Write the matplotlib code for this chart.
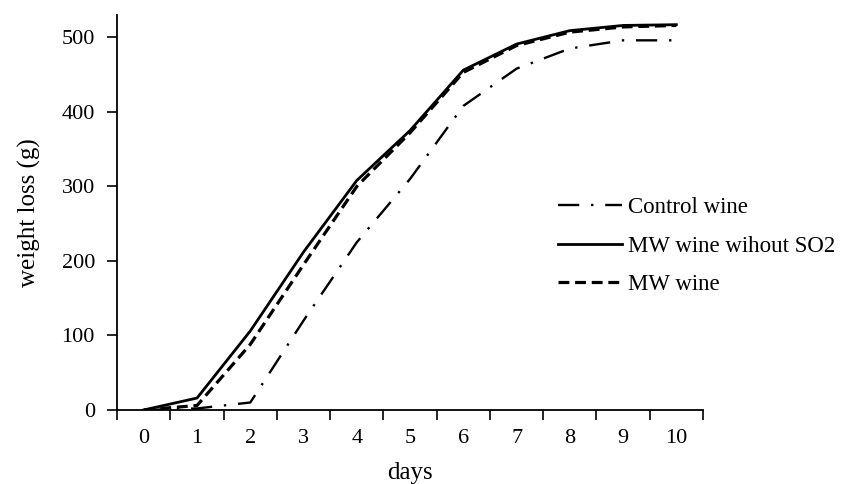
import numpy as np
import matplotlib.pyplot as plt
from matplotlib.ticker import FixedLocator

days = list(range(11))
control = [0, 2, 10, 120, 225, 310, 408, 458, 485, 496, 496]
mw_no_so2 = [0, 16, 106, 212, 308, 375, 456, 491, 509, 516, 517]
mw_wine = [0, 6, 88, 195, 300, 372, 453, 489, 507, 514, 516]

plt.rcParams['font.family'] = ['Liberation Serif', 'DejaVu Serif']

fig = plt.figure(figsize=(8.49, 4.84), dpi=100)
ax = fig.add_axes([0.138, 0.153, 0.69, 0.816])

ax.plot(days, control, color='black', lw=1.7, linestyle=(0, (9, 5, 1, 5)), label='Control wine')
ax.plot(days, mw_no_so2, color='black', lw=2.0, linestyle='-', label='MW wine wihout SO2')
ax.plot(days, mw_wine, color='black', lw=2.3, linestyle=(0, (3.4, 1.8)), label='MW wine')

ax.set_xlim(-0.5, 10.5)
ax.set_ylim(0, 530)
ax.set_xticks(days)
ax.set_xticklabels([str(d) for d in days])
ax.xaxis.set_minor_locator(FixedLocator(np.arange(-0.5, 11, 1)))
ax.tick_params(axis='x', which='major', length=0, pad=14, labelsize=16)
ax.tick_params(axis='x', which='minor', length=7, width=1.2, direction='out')
ax.set_yticks([0, 100, 200, 300, 400, 500])
ax.tick_params(axis='y', length=7, width=1.2, direction='out', labelsize=16, pad=9)

for s in ['top', 'right']:
    ax.spines[s].set_visible(False)
for s in ['left', 'bottom']:
    ax.spines[s].set_linewidth(1.3)

ax.set_xlabel('days', fontsize=18, labelpad=10)
ax.set_ylabel('weight loss (g)', fontsize=18, labelpad=15)

ax.legend(loc='center left', bbox_to_anchor=(0.752, 0.415), frameon=False, fontsize=16.5,
          handlelength=2.8, handletextpad=0.25, labelspacing=0.75,
          borderpad=0, borderaxespad=0)

fig.savefig('out.png', dpi=100)
